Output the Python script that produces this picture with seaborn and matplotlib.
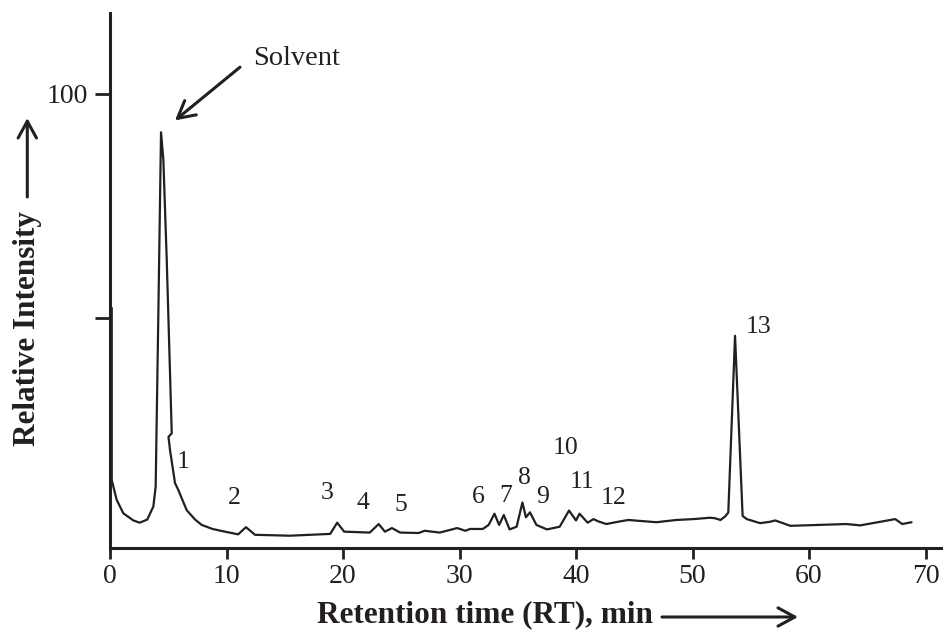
import matplotlib
matplotlib.use('Agg')
import matplotlib.pyplot as plt
import seaborn as sns
import pandas as pd

# ---- data ----
rt = [0.15, 0.15, 0.57, 1.14, 2.0, 2.55, 3.2, 3.72, 3.92, 4.15, 4.38, 4.58, 4.87, 5.3,
      5.02, 5.15, 5.58, 5.86, 6.58, 7.3, 7.87, 8.8, 9.87, 11.0, 11.67, 12.45, 15.45,
      18.9, 19.5, 20.1, 22.3, 23.06, 23.6, 24.2, 24.9, 26.5, 27.0, 28.3, 29.8, 30.5,
      30.9, 32.0, 32.5, 33.0, 33.4, 33.8, 34.3, 34.9, 35.4, 35.7, 36.05, 36.6, 37.5,
      38.6, 39.4, 40.0, 40.3, 41.0, 41.5, 41.9, 42.6, 43.8, 44.5, 46.9, 48.6, 50.1,
      51.5, 51.9, 52.4, 52.8, 53.07, 53.65, 54.3, 54.65, 55.8, 56.65, 57.1, 58.4,
      63.2, 64.4, 67.4, 68.0, 68.8]
intensity = [52.3, 14.0, 9.6, 6.6, 5.0, 4.5, 5.2, 8.1, 12.5, 51.0, 91.4, 85.3, 63.0,
             24.4, 23.6, 20.7, 13.3, 11.8, 7.3, 5.2, 4.0, 3.1, 2.5, 1.9, 3.5, 1.8, 1.6,
             2.0, 4.5, 2.5, 2.3, 4.2, 2.5, 3.3, 2.3, 2.2, 2.7, 2.3, 3.3, 2.7,
             3.1, 3.1, 4.0, 6.5, 4.0, 6.2, 3.0, 3.6, 9.0, 5.7, 6.8, 4.0, 3.0,
             3.6, 7.2, 5.0, 6.5, 4.5, 5.3, 4.8, 4.2, 4.8, 5.1, 4.6, 5.1, 5.3,
             5.6, 5.5, 5.1, 5.9, 6.75, 46.1, 6.0, 5.3, 4.4, 4.7, 5.0, 3.8,
             4.2, 3.9, 5.3, 4.2, 4.6]

peak_labels = ['1', '2', '3', '4', '5', '6', '7', '8', '9', '10', '11', '12', '13']
peak_label_x = [6.29, 10.64, 18.65, 21.7, 25.0, 31.65, 33.96, 35.57, 37.1, 39.06, 40.5, 43.2, 55.7]
peak_label_y = [18.1, 9.95, 11.1, 8.8, 8.5, 10.25, 10.5, 14.4, 10.3, 21.2, 13.65, 9.95, 48.0]

solvent_text = 'Solvent'
solvent_xy = (16.0, 107.8)
solvent_arrow_tail = (11.16, 105.9)
solvent_arrow_head = (5.58, 94.05)

x_ticks = [0, 10, 20, 30, 40, 50, 60, 70]
y_ticks = [50, 100]
y_tick_labels = ['', '100']

x_label = 'Retention time (RT), min'
y_label = 'Relative Intensity'

# ---- style ----
sns.set_theme(style='ticks')
plt.rcParams['font.family'] = ['Liberation Serif', 'DejaVu Serif']
INK = '#231F20'

df = pd.DataFrame({'rt': rt, 'intensity': intensity})

W, H = 943, 632
fig = plt.figure(figsize=(W / 100, H / 100), dpi=100)
ax = fig.add_axes([110 / W, 1 - 547.7 / H, 1 - 110 / W, (547.7 - 13) / H])

sns.lineplot(data=df, x='rt', y='intensity', sort=False, estimator=None,
             color=INK, linewidth=1.6, ax=ax)

ax.set_xlim(0, 71.5)
ax.set_ylim(-1.07, 117.96)

for s in ['top', 'right']:
    ax.spines[s].set_visible(False)
for s in ['left', 'bottom']:
    ax.spines[s].set_linewidth(2.2)
    ax.spines[s].set_color(INK)

ax.set_xticks(x_ticks)
ax.set_xticklabels([str(t) for t in x_ticks])
ax.set_yticks(y_ticks)
ax.set_yticklabels(y_tick_labels)
ax.tick_params(axis='x', direction='out', length=8, width=2, color=INK,
               labelsize=20, labelcolor=INK, pad=4)
ax.tick_params(axis='y', direction='out', length=11, width=2, color=INK,
               labelsize=20, labelcolor=INK, pad=5)

# axis labels
ax.set_xlabel(x_label, fontsize=22.5, fontweight='bold', color=INK, va='center')
ax.xaxis.set_label_coords((485 - 110) / (W - 110), -(615 - 547.7) / (547.7 - 13))
ax.set_ylabel(y_label, fontsize=22.5, fontweight='bold', color=INK, va='center')
ax.yaxis.set_label_coords((28 - 110) / (W - 110), (547.7 - 329) / (547.7 - 13))

# axis arrows
arrow_kw = dict(arrowstyle='->,head_length=0.55,head_width=0.3', lw=2.2, color=INK,
                mutation_scale=22, shrinkA=0, shrinkB=0)
fig.add_artist(matplotlib.patches.FancyArrowPatch(
    (662 / W, 1 - 617 / H), (798 / W, 1 - 617 / H),
    transform=fig.transFigure, **arrow_kw))
fig.add_artist(matplotlib.patches.FancyArrowPatch(
    (27.3 / W, 1 - 197 / H), (27.3 / W, 1 - 118 / H),
    transform=fig.transFigure, **arrow_kw))

# peak labels
for lab, lx, ly in zip(peak_labels, peak_label_x, peak_label_y):
    ax.text(lx, ly, lab, fontsize=18.5, color=INK, ha='center', va='center')

# solvent annotation
ax.text(solvent_xy[0], solvent_xy[1], solvent_text, fontsize=20.5, color=INK,
        ha='center', va='center')
ax.annotate('', xy=solvent_arrow_head, xytext=solvent_arrow_tail,
            arrowprops=dict(arrowstyle='->,head_length=0.55,head_width=0.3', lw=2.2,
                            color=INK, mutation_scale=22, shrinkA=0, shrinkB=0))

fig.savefig('out.png', dpi=100)
